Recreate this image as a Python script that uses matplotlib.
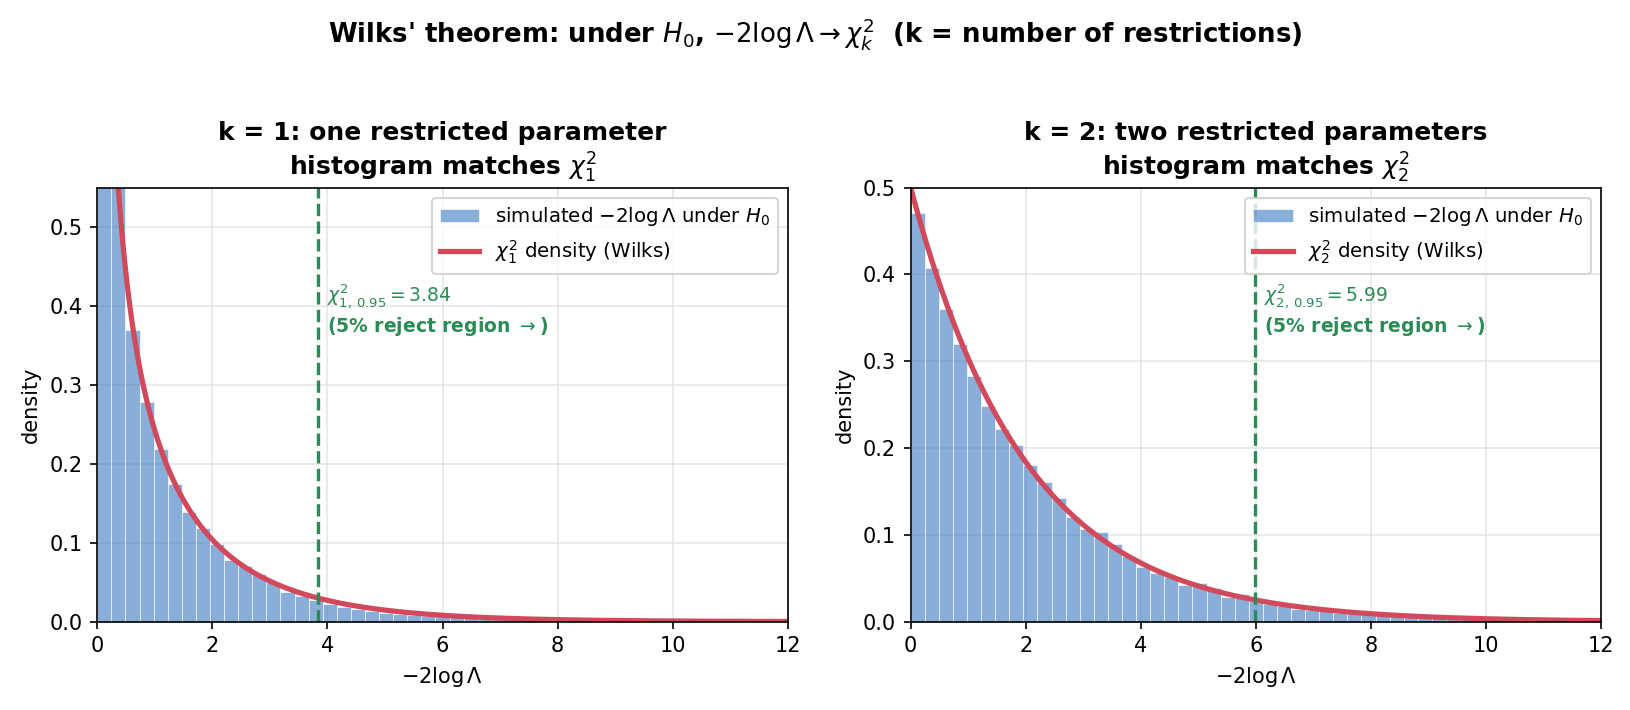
import matplotlib
matplotlib.use("Agg")
import matplotlib.pyplot as plt
import matplotlib.transforms as mtransforms
import numpy as np

plt.rcParams["font.family"] = "DejaVu Sans"

# histogram bins: 49 equal bins on [0, 12]
bin_edges = np.linspace(0, 12, 50)

# density, k = 1
hist_k1 = [1.55, 0.58, 0.369, 0.278, 0.219, 0.175, 0.139, 0.119, 0.099, 0.078,
           0.070, 0.060, 0.050, 0.038, 0.032, 0.028, 0.022, 0.019, 0.016, 0.013,
           0.011, 0.0095, 0.0080, 0.0070, 0.0066, 0.0061, 0.0055, 0.0049, 0.0045,
           0.0039, 0.0035, 0.0029, 0.0027, 0.0022, 0.0020, 0.0017, 0.0016, 0.0013,
           0.0012, 0.0010, 0.0009, 0.0008, 0.0007, 0.0006, 0.0006, 0.0005, 0.0004,
           0.0004, 0.0003]

# density, k = 2
hist_k2 = [0.471, 0.408, 0.360, 0.320, 0.283, 0.249, 0.222, 0.203, 0.180, 0.161,
           0.142, 0.121, 0.107, 0.103, 0.089, 0.0755, 0.063, 0.056, 0.051, 0.042,
           0.044, 0.039, 0.029, 0.0315, 0.024, 0.020, 0.018, 0.015, 0.013, 0.012,
           0.010, 0.0095, 0.0085, 0.0075, 0.0068, 0.0060, 0.0055, 0.0049, 0.0043,
           0.0038, 0.0034, 0.0030, 0.0027, 0.0023, 0.0021, 0.0019, 0.0016, 0.0014,
           0.0013]

crit_values = [3.84, 5.99]
y_limits = [0.55, 0.5]
titles = ["k = 1: one restricted parameter\nhistogram matches $\\chi^2_1$",
          "k = 2: two restricted parameters\nhistogram matches $\\chi^2_2$"]

bar_color = "#3a78c2"
curve_color = "#d1495b"
green = "#2a8c55"


def chi2_pdf(x, k):
    if k == 1:
        return np.exp(-x / 2) / np.sqrt(2 * np.pi * x)
    return 0.5 * np.exp(-x / 2)


fig = plt.figure(figsize=(1630 / 150, 710 / 150), dpi=150)
axes = [fig.add_axes([0.0597, 0.1244, 0.4236, 0.6113]),
        fig.add_axes([0.5587, 0.1244, 0.4235, 0.6113])]

widths = np.diff(bin_edges)
xs = np.linspace(0.005, 12, 800)

for i, (ax, heights) in enumerate(zip(axes, [hist_k1, hist_k2])):
    k = i + 1
    ax.set_axisbelow(True)
    ax.grid(True, color="#dddddd", linewidth=0.8, alpha=0.7)
    bars = ax.bar(bin_edges[:-1], heights, width=widths, align="edge",
                  color=bar_color, alpha=0.6, edgecolor="white", linewidth=0.5,
                  label="simulated $-2\\log\\Lambda$ under $H_0$")
    line, = ax.plot(xs, chi2_pdf(xs, k), color=curve_color, lw=2.5,
                    label=f"$\\chi^2_{k}$ density (Wilks)")
    c = crit_values[i]
    ax.axvline(c, color=green, ls="--", lw=1.6)
    trans = mtransforms.blended_transform_factory(ax.transData, ax.transAxes)
    ax.text(c + 0.15, 0.75, f"$\\chi^2_{{{k},\\,0.95}} = {c:.2f}$",
            transform=trans, color=green, fontsize=9, va="center")
    ax.text(c + 0.15, 0.68, "(5% reject region $\\rightarrow$)",
            transform=trans, color=green, fontsize=9, fontweight="bold",
            va="center")
    ax.set_xlim(0, 12)
    ax.set_ylim(0, y_limits[i])
    ax.set_xlabel("$-2\\log\\Lambda$")
    ax.set_ylabel("density")
    ax.set_title(titles[i], fontweight="bold", fontsize=12)
    ax.legend(handles=[bars, line], loc="upper right", fontsize=9.5)

fig.suptitle("Wilks' theorem: under $H_0$, $-2\\log\\Lambda \\to \\chi^2_k$  "
             "(k = number of restrictions)", fontweight="bold", fontsize=12.5,
             y=0.978)

fig.savefig("out.png", dpi=150)
